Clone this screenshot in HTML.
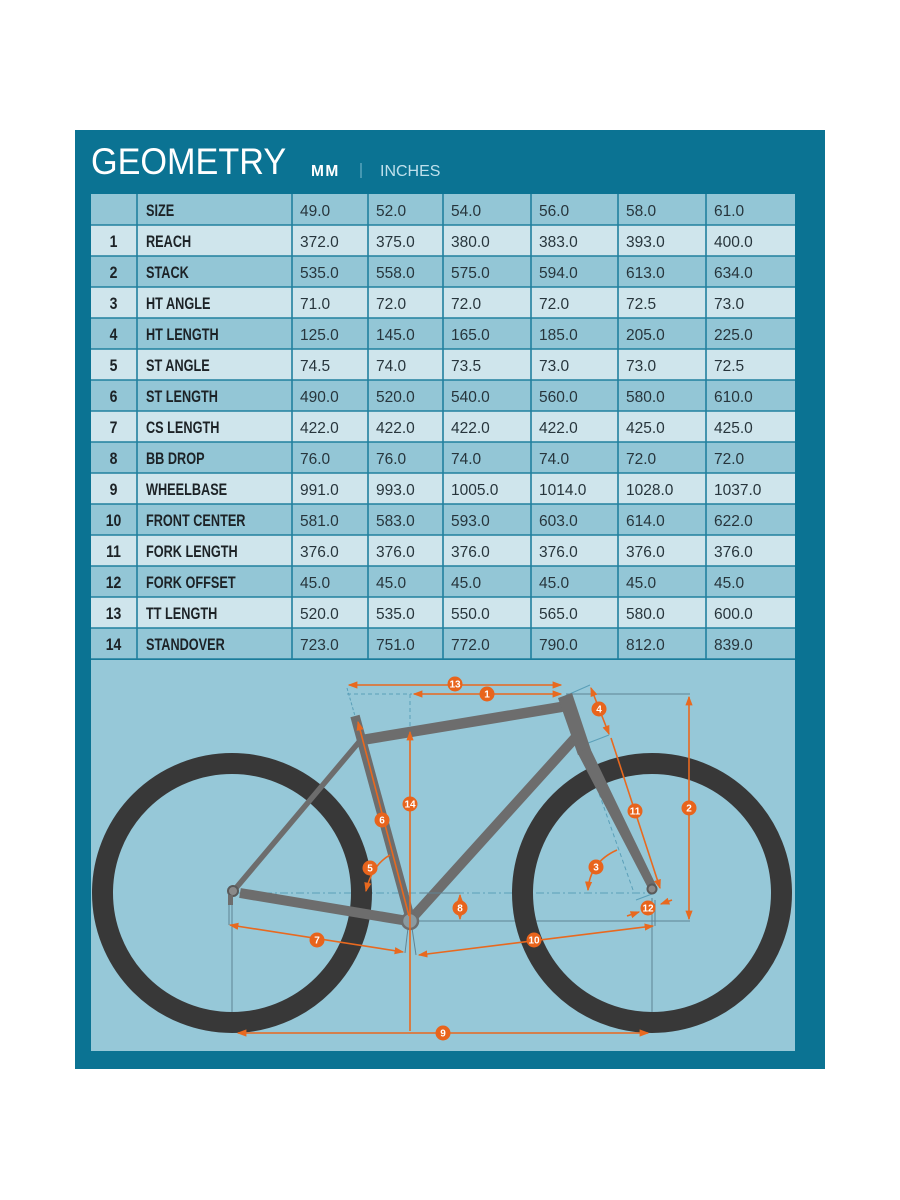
<!DOCTYPE html>
<html>
<head>
<meta charset="utf-8">
<style>
html,body{margin:0;padding:0;background:#ffffff;}
svg{display:block;}
.lb{font-family:"Liberation Sans",sans-serif;font-weight:bold;font-size:16.5px;fill:#1c2226;}
.nm{font-family:"Liberation Sans",sans-serif;font-weight:bold;font-size:16.5px;fill:#1c2226;}
.v{font-family:"Liberation Sans",sans-serif;font-size:15.5px;fill:#27353c;}
.bn{font-family:"Liberation Sans",sans-serif;font-weight:bold;font-size:10px;fill:#ffffff;}
</style>
</head>
<body>
<svg width="900" height="1200" viewBox="0 0 900 1200" xmlns="http://www.w3.org/2000/svg">
<defs>
  <marker id="ar" viewBox="0 0 8 8" refX="7" refY="4" markerWidth="6" markerHeight="6" orient="auto-start-reverse">
    <path d="M0,1 L8,4 L0,7 z" fill="#e8691f"/>
  </marker>
</defs>
<rect x="0" y="0" width="900" height="1200" fill="#ffffff"/>
<rect x="75" y="130" width="750" height="939" fill="#0b7393"/>

<!-- header -->
<text x="91" y="174" font-family="Liberation Sans, sans-serif" font-size="37" fill="#ffffff" transform="translate(91,0) scale(0.925,1) translate(-91,0)">GEOMETRY</text>
<text x="311" y="176" font-family="Liberation Sans, sans-serif" font-weight="bold" font-size="15.5" fill="#ffffff" letter-spacing="1.5">MM</text>
<rect x="360.5" y="163" width="1" height="15" fill="#7fbdd2"/>
<text x="380" y="176" font-family="Liberation Sans, sans-serif" font-size="16" fill="#bfe0ec">INCHES</text>

<!-- table rows -->
<g>
<rect x="91" y="194" width="704" height="31" fill="#93c6d6"/>
<rect x="91" y="225" width="704" height="31" fill="#cfe5ec"/>
<rect x="91" y="256" width="704" height="31" fill="#93c6d6"/>
<rect x="91" y="287" width="704" height="31" fill="#cfe5ec"/>
<rect x="91" y="318" width="704" height="31" fill="#93c6d6"/>
<rect x="91" y="349" width="704" height="31" fill="#cfe5ec"/>
<rect x="91" y="380" width="704" height="31" fill="#93c6d6"/>
<rect x="91" y="411" width="704" height="31" fill="#cfe5ec"/>
<rect x="91" y="442" width="704" height="31" fill="#93c6d6"/>
<rect x="91" y="473" width="704" height="31" fill="#cfe5ec"/>
<rect x="91" y="504" width="704" height="31" fill="#93c6d6"/>
<rect x="91" y="535" width="704" height="31" fill="#cfe5ec"/>
<rect x="91" y="566" width="704" height="31" fill="#93c6d6"/>
<rect x="91" y="597" width="704" height="31" fill="#cfe5ec"/>
<rect x="91" y="628" width="704" height="31" fill="#93c6d6"/>
</g>
<!-- grid -->
<g stroke="#21809e" stroke-width="1.6">
<line x1="91" y1="225" x2="795" y2="225"/>
<line x1="91" y1="256" x2="795" y2="256"/>
<line x1="91" y1="287" x2="795" y2="287"/>
<line x1="91" y1="318" x2="795" y2="318"/>
<line x1="91" y1="349" x2="795" y2="349"/>
<line x1="91" y1="380" x2="795" y2="380"/>
<line x1="91" y1="411" x2="795" y2="411"/>
<line x1="91" y1="442" x2="795" y2="442"/>
<line x1="91" y1="473" x2="795" y2="473"/>
<line x1="91" y1="504" x2="795" y2="504"/>
<line x1="91" y1="535" x2="795" y2="535"/>
<line x1="91" y1="566" x2="795" y2="566"/>
<line x1="91" y1="597" x2="795" y2="597"/>
<line x1="91" y1="628" x2="795" y2="628"/>
<line x1="91" y1="659" x2="795" y2="659"/>
<line x1="137" y1="194" x2="137" y2="659"/>
<line x1="292" y1="194" x2="292" y2="659"/>
<line x1="368" y1="194" x2="368" y2="659"/>
<line x1="443" y1="194" x2="443" y2="659"/>
<line x1="531" y1="194" x2="531" y2="659"/>
<line x1="618" y1="194" x2="618" y2="659"/>
<line x1="706" y1="194" x2="706" y2="659"/>
</g>

<!-- labels -->
<g class="lb">
<text transform="translate(146,216) scale(0.77,1)">SIZE</text>
<text transform="translate(146,247) scale(0.77,1)">REACH</text>
<text transform="translate(146,278) scale(0.77,1)">STACK</text>
<text transform="translate(146,309) scale(0.77,1)">HT ANGLE</text>
<text transform="translate(146,340) scale(0.77,1)">HT LENGTH</text>
<text transform="translate(146,371) scale(0.77,1)">ST ANGLE</text>
<text transform="translate(146,402) scale(0.77,1)">ST LENGTH</text>
<text transform="translate(146,433) scale(0.77,1)">CS LENGTH</text>
<text transform="translate(146,464) scale(0.77,1)">BB DROP</text>
<text transform="translate(146,495) scale(0.77,1)">WHEELBASE</text>
<text transform="translate(146,526) scale(0.77,1)">FRONT CENTER</text>
<text transform="translate(146,557) scale(0.77,1)">FORK LENGTH</text>
<text transform="translate(146,588) scale(0.77,1)">FORK OFFSET</text>
<text transform="translate(146,619) scale(0.77,1)">TT LENGTH</text>
<text transform="translate(146,650) scale(0.77,1)">STANDOVER</text>
</g>
<g class="nm" text-anchor="middle">
<text transform="translate(113.5,247) scale(0.85,1)">1</text>
<text transform="translate(113.5,278) scale(0.85,1)">2</text>
<text transform="translate(113.5,309) scale(0.85,1)">3</text>
<text transform="translate(113.5,340) scale(0.85,1)">4</text>
<text transform="translate(113.5,371) scale(0.85,1)">5</text>
<text transform="translate(113.5,402) scale(0.85,1)">6</text>
<text transform="translate(113.5,433) scale(0.85,1)">7</text>
<text transform="translate(113.5,464) scale(0.85,1)">8</text>
<text transform="translate(113.5,495) scale(0.85,1)">9</text>
<text transform="translate(113.5,526) scale(0.85,1)">10</text>
<text transform="translate(113.5,557) scale(0.85,1)">11</text>
<text transform="translate(113.5,588) scale(0.85,1)">12</text>
<text transform="translate(113.5,619) scale(0.85,1)">13</text>
<text transform="translate(113.5,650) scale(0.85,1)">14</text>
</g>

<!-- values -->
<g class="v">
<text x="300" y="216">49.0</text><text x="376" y="216">52.0</text><text x="451" y="216">54.0</text><text x="539" y="216">56.0</text><text x="626" y="216">58.0</text><text x="714" y="216">61.0</text>
<text x="300" y="247">372.0</text><text x="376" y="247">375.0</text><text x="451" y="247">380.0</text><text x="539" y="247">383.0</text><text x="626" y="247">393.0</text><text x="714" y="247">400.0</text>
<text x="300" y="278">535.0</text><text x="376" y="278">558.0</text><text x="451" y="278">575.0</text><text x="539" y="278">594.0</text><text x="626" y="278">613.0</text><text x="714" y="278">634.0</text>
<text x="300" y="309">71.0</text><text x="376" y="309">72.0</text><text x="451" y="309">72.0</text><text x="539" y="309">72.0</text><text x="626" y="309">72.5</text><text x="714" y="309">73.0</text>
<text x="300" y="340">125.0</text><text x="376" y="340">145.0</text><text x="451" y="340">165.0</text><text x="539" y="340">185.0</text><text x="626" y="340">205.0</text><text x="714" y="340">225.0</text>
<text x="300" y="371">74.5</text><text x="376" y="371">74.0</text><text x="451" y="371">73.5</text><text x="539" y="371">73.0</text><text x="626" y="371">73.0</text><text x="714" y="371">72.5</text>
<text x="300" y="402">490.0</text><text x="376" y="402">520.0</text><text x="451" y="402">540.0</text><text x="539" y="402">560.0</text><text x="626" y="402">580.0</text><text x="714" y="402">610.0</text>
<text x="300" y="433">422.0</text><text x="376" y="433">422.0</text><text x="451" y="433">422.0</text><text x="539" y="433">422.0</text><text x="626" y="433">425.0</text><text x="714" y="433">425.0</text>
<text x="300" y="464">76.0</text><text x="376" y="464">76.0</text><text x="451" y="464">74.0</text><text x="539" y="464">74.0</text><text x="626" y="464">72.0</text><text x="714" y="464">72.0</text>
<text x="300" y="495">991.0</text><text x="376" y="495">993.0</text><text x="451" y="495">1005.0</text><text x="539" y="495">1014.0</text><text x="626" y="495">1028.0</text><text x="714" y="495">1037.0</text>
<text x="300" y="526">581.0</text><text x="376" y="526">583.0</text><text x="451" y="526">593.0</text><text x="539" y="526">603.0</text><text x="626" y="526">614.0</text><text x="714" y="526">622.0</text>
<text x="300" y="557">376.0</text><text x="376" y="557">376.0</text><text x="451" y="557">376.0</text><text x="539" y="557">376.0</text><text x="626" y="557">376.0</text><text x="714" y="557">376.0</text>
<text x="300" y="588">45.0</text><text x="376" y="588">45.0</text><text x="451" y="588">45.0</text><text x="539" y="588">45.0</text><text x="626" y="588">45.0</text><text x="714" y="588">45.0</text>
<text x="300" y="619">520.0</text><text x="376" y="619">535.0</text><text x="451" y="619">550.0</text><text x="539" y="619">565.0</text><text x="626" y="619">580.0</text><text x="714" y="619">600.0</text>
<text x="300" y="650">723.0</text><text x="376" y="650">751.0</text><text x="451" y="650">772.0</text><text x="539" y="650">790.0</text><text x="626" y="650">812.0</text><text x="714" y="650">839.0</text>
</g>

<!-- diagram background -->
<rect x="91" y="660" width="704" height="391" fill="#96c8d8"/>

<!-- thin construction lines -->
<g stroke="#5a9fb8" stroke-width="1" fill="none">
  <line x1="347" y1="694" x2="412" y2="694" stroke-dasharray="4,3"/>
  <line x1="410" y1="694" x2="410" y2="730" stroke-dasharray="4,3"/>
  <line x1="347" y1="688" x2="355" y2="716" stroke-dasharray="3,2"/>
  <line x1="232" y1="893" x2="652" y2="893" stroke-dasharray="8,3,2,3"/>
  <line x1="633" y1="890" x2="588" y2="762" stroke-dasharray="4,3"/>
  <line x1="565" y1="696" x2="590" y2="685"/>
  <line x1="583" y1="745" x2="609" y2="735"/>
  <line x1="636" y1="900" x2="652" y2="894"/>
</g>
<g stroke="#5f8494" stroke-width="1" fill="none">
  <line x1="566" y1="694" x2="690" y2="694"/>
  <line x1="410" y1="921" x2="690" y2="921"/>
  <line x1="232" y1="898" x2="232" y2="1033"/>
  <line x1="652" y1="898" x2="652" y2="1033"/>
  <line x1="229" y1="900" x2="229" y2="925"/>
  <line x1="408" y1="928" x2="405" y2="953"/>
  <line x1="412" y1="928" x2="416" y2="955"/>
  <line x1="655" y1="900" x2="655" y2="926"/>
</g>

<!-- wheels -->
<circle cx="232" cy="893" r="129.5" fill="none" stroke="#383838" stroke-width="21"/>
<circle cx="652" cy="893" r="129.5" fill="none" stroke="#383838" stroke-width="21"/>

<!-- frame -->
<g stroke-linecap="butt" fill="none">
  <line x1="240" y1="893" x2="408" y2="921" stroke="#6d6d6d" stroke-width="10"/>
  <line x1="236" y1="888" x2="359" y2="742" stroke="#6d6d6d" stroke-width="5.5"/>
  <line x1="355" y1="716" x2="411" y2="921" stroke="#6d6d6d" stroke-width="9.5"/>
  <line x1="362" y1="740" x2="561" y2="707" stroke="#6d6d6d" stroke-width="10.5" stroke-linecap="round"/>
  <line x1="575" y1="738" x2="414" y2="916" stroke="#6d6d6d" stroke-width="10" stroke-linecap="round"/>
</g>
<polygon points="558,698 572,693 591,750 578,755" fill="#6d6d6d"/>
<polygon points="577,752 590,748 656,885 648,888" fill="#6d6d6d"/>
<circle cx="410" cy="921" r="8" fill="#8a9aa0" stroke="#6d6d6d" stroke-width="2.5"/>
<circle cx="233" cy="891" r="5" fill="#8a8a8a" stroke="#5a5a5a" stroke-width="2"/>
<rect x="228" y="895" width="5" height="10" fill="#6d6d6d"/>
<circle cx="652" cy="889" r="4.5" fill="#8a8a8a" stroke="#5a5a5a" stroke-width="2"/>

<!-- dimension lines -->
<g stroke="#e8691f" stroke-width="1.6" fill="none">
  <line x1="349" y1="685" x2="561" y2="685" marker-start="url(#ar)" marker-end="url(#ar)"/>
  <line x1="414" y1="694" x2="561" y2="694" marker-start="url(#ar)" marker-end="url(#ar)"/>
  <line x1="410" y1="732" x2="410" y2="1031" marker-start="url(#ar)"/>
  <line x1="358" y1="722" x2="409" y2="916" marker-start="url(#ar)"/>
  <line x1="591" y1="688" x2="609" y2="734" marker-start="url(#ar)" marker-end="url(#ar)"/>
  <line x1="611" y1="738" x2="660" y2="888" marker-end="url(#ar)"/>
  <line x1="689" y1="697" x2="689" y2="919" marker-start="url(#ar)" marker-end="url(#ar)"/>
  <line x1="420" y1="893" x2="460" y2="893" stroke="#5f8494" stroke-width="1"/>
  <line x1="460" y1="895" x2="460" y2="919" marker-start="url(#ar)" marker-end="url(#ar)"/>
  <path d="M390,855 Q372,865 366,891" marker-end="url(#ar)"/>
  <path d="M617,850 Q590,862 588,890" marker-end="url(#ar)"/>
  <line x1="627" y1="916" x2="639" y2="912" marker-end="url(#ar)"/>
  <line x1="672" y1="900" x2="661" y2="904" marker-end="url(#ar)"/>
  <line x1="230" y1="925" x2="403" y2="952" marker-start="url(#ar)" marker-end="url(#ar)"/>
  <line x1="419" y1="955" x2="653" y2="926" marker-start="url(#ar)" marker-end="url(#ar)"/>
  <line x1="238" y1="1033" x2="648" y2="1033" marker-start="url(#ar)" marker-end="url(#ar)"/>
</g>

<!-- number badges -->
<g>
  <circle cx="455" cy="684" r="7.5" fill="#e8641c"/><text class="bn" x="455" y="687.5" text-anchor="middle">13</text>
  <circle cx="487" cy="694" r="7.5" fill="#e8641c"/><text class="bn" x="487" y="697.5" text-anchor="middle">1</text>
  <circle cx="599" cy="709" r="7.5" fill="#e8641c"/><text class="bn" x="599" y="712.5" text-anchor="middle">4</text>
  <circle cx="410" cy="804" r="7.5" fill="#e8641c"/><text class="bn" x="410" y="807.5" text-anchor="middle">14</text>
  <circle cx="382" cy="820" r="7.5" fill="#e8641c"/><text class="bn" x="382" y="823.5" text-anchor="middle">6</text>
  <circle cx="635" cy="811" r="7.5" fill="#e8641c"/><text class="bn" x="635" y="814.5" text-anchor="middle">11</text>
  <circle cx="689" cy="808" r="7.5" fill="#e8641c"/><text class="bn" x="689" y="811.5" text-anchor="middle">2</text>
  <circle cx="370" cy="868" r="7.5" fill="#e8641c"/><text class="bn" x="370" y="871.5" text-anchor="middle">5</text>
  <circle cx="596" cy="867" r="7.5" fill="#e8641c"/><text class="bn" x="596" y="870.5" text-anchor="middle">3</text>
  <circle cx="460" cy="908" r="7.5" fill="#e8641c"/><text class="bn" x="460" y="911.5" text-anchor="middle">8</text>
  <circle cx="648" cy="908" r="7.5" fill="#e8641c"/><text class="bn" x="648" y="911.5" text-anchor="middle">12</text>
  <circle cx="317" cy="940" r="7.5" fill="#e8641c"/><text class="bn" x="317" y="943.5" text-anchor="middle">7</text>
  <circle cx="534" cy="940" r="7.5" fill="#e8641c"/><text class="bn" x="534" y="943.5" text-anchor="middle">10</text>
  <circle cx="443" cy="1033" r="7.5" fill="#e8641c"/><text class="bn" x="443" y="1036.5" text-anchor="middle">9</text>
</g>
</svg>
</body>
</html>
